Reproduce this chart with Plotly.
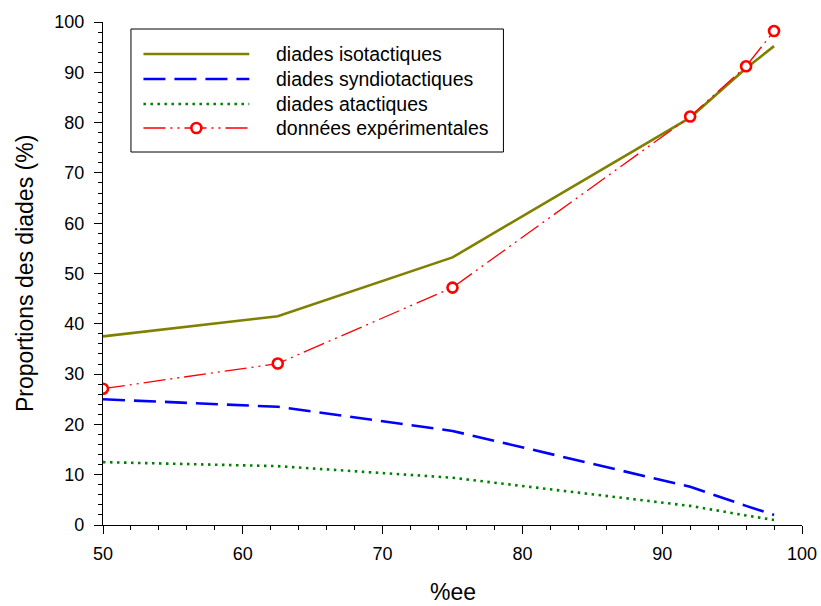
import plotly.graph_objects as go

ee = [50, 62.5, 75, 92, 96, 98]
iso = [37.5, 41.5, 53.2, 81.0, 90.8, 95.2]
syndio = [25.0, 23.5, 18.7, 7.6, 3.8, 2.0]
atac = [12.5, 11.7, 9.4, 3.8, 1.9, 1.0]
exp_ee = [50, 62.5, 75, 92, 96, 98]
exp_val = [27.1, 32.1, 47.2, 81.2, 91.2, 98.2]

names = ["diades isotactiques", "diades syndiotactiques", "diades atactiques", "données expérimentales"]
x_title = "%ee"
y_title = "Proportions des diades (%)"

OLIVE = "#808000"
BLUE = "#0000FF"
GREEN = "#008000"
RED = "#FF0000"
DASH_RED = "22px,5px,2px,5px,2px,5px"
DASH_DOT = "2.5px,4.5px"
FONT = "Liberation Sans, Arial"

fig = go.Figure()
fig.add_trace(go.Scatter(x=ee, y=iso, mode="lines", name=names[0],
                         line=dict(color=OLIVE, width=2.6)))
fig.add_trace(go.Scatter(x=ee, y=syndio, mode="lines", name=names[1],
                         line=dict(color=BLUE, width=2.6, dash="22px,9px")))
fig.add_trace(go.Scatter(x=ee, y=atac, mode="lines", name=names[2],
                         line=dict(color=GREEN, width=2.6, dash=DASH_DOT)))
fig.add_trace(go.Scatter(x=exp_ee, y=exp_val, mode="lines+markers", name=names[3],
                         line=dict(color=RED, width=1.3, dash=DASH_RED),
                         marker=dict(symbol="circle", size=10, color="white",
                                     line=dict(color=RED, width=2.6))))

# plot area in pixels
L, R, T, B = 102.5, 802.5, 22, 525
W, H = 821, 606

def px(x):
    return (x - L) / (R - L)

def py(y):
    return (B - y) / (B - T)

# custom legend
shapes = [dict(type="rect", xref="paper", yref="paper",
               x0=px(130.5), x1=px(503.5), y0=py(29), y1=py(152),
               line=dict(color="black", width=1), fillcolor="white", layer="above")]
rows = [54, 79, 104, 128]
styles = [dict(color=OLIVE, width=2.6), dict(color=BLUE, width=2.6, dash="22px,9px"),
          dict(color=GREEN, width=2.6, dash=DASH_DOT), dict(color=RED, width=1.3, dash=DASH_RED)]
for ry, st in zip(rows, styles):
    shapes.append(dict(type="line", xref="paper", yref="paper", x0=px(143), x1=px(249),
                       y0=py(ry), y1=py(ry), line=st, layer="above"))
shapes.append(dict(type="circle", xref="paper", yref="paper",
                   x0=px(196 - 5), x1=px(196 + 5), y0=py(128 + 5), y1=py(128 - 5),
                   line=dict(color=RED, width=2.6), fillcolor="white", layer="above"))
annotations = []
for ry, nm in zip(rows, names):
    annotations.append(dict(xref="paper", yref="paper", x=px(274), y=py(ry), text=nm,
                            showarrow=False, xanchor="left", yanchor="middle",
                            font=dict(size=19.5, color="black", family=FONT)))
# axis titles
annotations.append(dict(xref="paper", yref="paper", x=px(452.5), y=py(592), text=x_title,
                        showarrow=False, xanchor="center", yanchor="middle",
                        font=dict(size=23, color="black", family=FONT)))
annotations.append(dict(xref="paper", yref="paper", x=px(24), y=py(273.5), text=y_title,
                        showarrow=False, xanchor="center", yanchor="middle", textangle=-90,
                        font=dict(size=23, color="black", family=FONT)))

fig.update_layout(
    width=W, height=H,
    margin=dict(l=L, r=W - R, t=T, b=H - B, autoexpand=False),
    plot_bgcolor="white", paper_bgcolor="white",
    showlegend=False,
    shapes=shapes, annotations=annotations,
    font=dict(family=FONT, size=18, color="black"),
)
fig.update_xaxes(range=[50, 100], tick0=50, dtick=10, showgrid=False, zeroline=False,
                 showline=True, linecolor="black", linewidth=1.3, automargin=False,
                 ticks="outside", ticklen=8, tickwidth=1.3, tickcolor="black", ticklabelstandoff=4,
                 minor=dict(dtick=2, ticks="outside", ticklen=4, tickwidth=1.3, tickcolor="black"))
fig.update_yaxes(range=[0, 100], tick0=0, dtick=10, showgrid=False, zeroline=False,
                 showline=True, linecolor="black", linewidth=1.3, automargin=False,
                 ticks="outside", ticklen=8, tickwidth=1.3, tickcolor="black", ticklabelstandoff=6,
                 minor=dict(dtick=2, ticks="outside", ticklen=4, tickwidth=1.3, tickcolor="black"))

fig.write_html("out.html")
